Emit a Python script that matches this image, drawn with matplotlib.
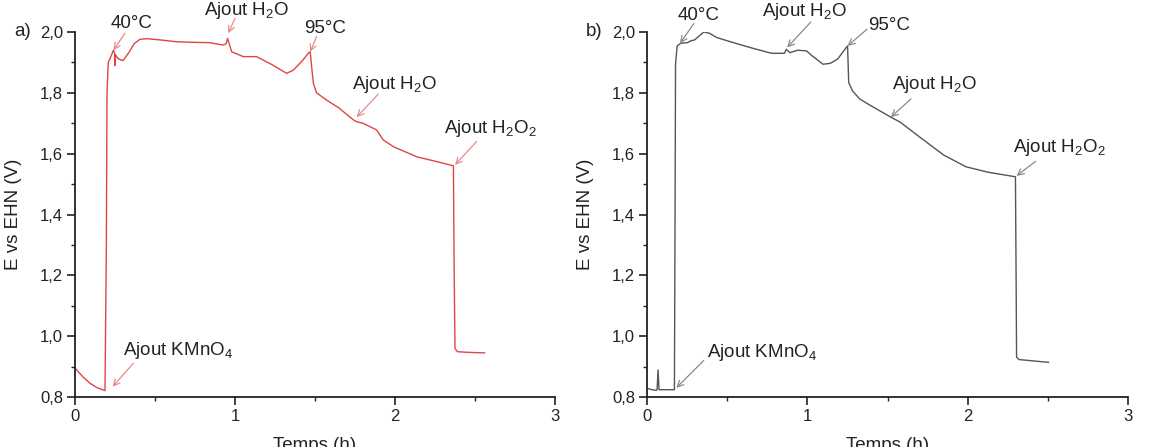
import matplotlib
matplotlib.use("Agg")
import matplotlib.pyplot as plt
from matplotlib.ticker import MultipleLocator, FuncFormatter

plt.rcParams['font.family'] = ['Liberation Sans', 'DejaVu Sans']
plt.rcParams['mathtext.fontset'] = 'custom'
plt.rcParams['mathtext.rm'] = 'Liberation Sans'
plt.rcParams['mathtext.default'] = 'regular'

# ---- Data: panel a (red) ----
t_a = [0.0, 0.05, 0.094, 0.14, 0.1875, 0.196, 0.20, 0.208, 0.225, 0.24, 0.248, 0.25, 0.252,
       0.27, 0.30, 0.34, 0.37, 0.406, 0.45, 0.53, 0.635, 0.74, 0.84, 0.927, 0.945, 0.954,
       0.962, 0.979, 1.052, 1.135, 1.23, 1.323, 1.365, 1.42, 1.458, 1.47, 1.48, 1.49, 1.51,
       1.573, 1.65, 1.74, 1.76, 1.80, 1.885, 1.927, 1.99, 2.135, 2.26, 2.365, 2.37, 2.375,
       2.39, 2.45, 2.56]
E_a = [0.895, 0.866, 0.845, 0.830, 0.821, 1.30, 1.80, 1.90, 1.92, 1.94, 1.93, 1.89, 1.925,
       1.912, 1.906, 1.935, 1.962, 1.976, 1.978, 1.974, 1.968, 1.966, 1.965, 1.957, 1.962, 1.979,
       1.965, 1.935, 1.919, 1.919, 1.893, 1.864, 1.875, 1.905, 1.930, 1.935, 1.88, 1.831, 1.80,
       1.776, 1.750, 1.711, 1.705, 1.700, 1.678, 1.645, 1.623, 1.590, 1.574, 1.560, 1.20, 0.96,
       0.949, 0.947, 0.945]

# ---- Data: panel b (grey) ----
t_b = [0.0, 0.03, 0.057, 0.063, 0.069, 0.075, 0.12, 0.171, 0.175, 0.178, 0.188, 0.21, 0.252,
       0.274, 0.297, 0.354, 0.389, 0.434, 0.526, 0.663, 0.777, 0.857, 0.869, 0.892, 0.938,
       0.995, 1.029, 1.098, 1.143, 1.189, 1.246, 1.251, 1.258, 1.281, 1.326, 1.395, 1.521,
       1.578, 1.715, 1.852, 1.989, 2.127, 2.298, 2.302, 2.305, 2.321, 2.504]
E_b = [0.829, 0.824, 0.822, 0.824, 0.889, 0.824, 0.824, 0.824, 1.40, 1.894, 1.954, 1.963,
       1.965, 1.971, 1.974, 2.000, 1.996, 1.982, 1.967, 1.946, 1.930, 1.930, 1.943, 1.932,
       1.940, 1.938, 1.922, 1.894, 1.897, 1.911, 1.951, 1.954, 1.834, 1.807, 1.780, 1.758,
       1.720, 1.704, 1.649, 1.595, 1.557, 1.539, 1.524, 1.20, 0.931, 0.923, 0.914]

# annotation texts
lab_40 = "40°C"
lab_h2o = "Ajout H$_2$O"
lab_95 = "95°C"
lab_h2o2 = "Ajout H$_2$O$_2$"
lab_kmno4 = "Ajout KMnO$_4$"

x_ticks = [0, 1, 2, 3]
y_ticks = [0.8, 1.0, 1.2, 1.4, 1.6, 1.8, 2.0]

fig = plt.figure(figsize=(11.52, 4.47), dpi=100)
ax_a = fig.add_axes([75/1152, 1-397/447, 480/1152, 365/447])
ax_b = fig.add_axes([647/1152, 1-397/447, 481/1152, 365/447])

comma = FuncFormatter(lambda v, p: f"{v:.1f}".replace('.', ','))

def style(ax):
    ax.set_xlim(0, 3)
    ax.set_ylim(0.8, 2.0)
    ax.set_xticks(x_ticks)
    ax.set_yticks(y_ticks)
    ax.xaxis.set_minor_locator(MultipleLocator(0.5))
    ax.yaxis.set_minor_locator(MultipleLocator(0.1))
    ax.yaxis.set_major_formatter(comma)
    ax.xaxis.set_major_formatter(FuncFormatter(lambda v, p: f"{int(v)}"))
    for s in ['top', 'right']:
        ax.spines[s].set_visible(False)
    for s in ['left', 'bottom']:
        ax.spines[s].set_linewidth(1.3)
        ax.spines[s].set_color('#222222')
    ax.tick_params(which='major', direction='out', length=5.5, width=1.2,
                   labelsize=12, pad=3, colors='#222222')
    ax.tick_params(which='minor', direction='out', length=3, width=1.0, colors='#222222')
    ax.set_xlabel("Temps (h)", fontsize=13.5, color='#222222')
    ax.set_ylabel("E vs EHN (V)", fontsize=13.5, color='#222222')
    ax.xaxis.set_label_coords(0.5, -0.11)
    ax.yaxis.set_label_coords(-0.11, 0.5)

style(ax_a)
style(ax_b)

ax_a.plot(t_a, E_a, color='#e04545', lw=1.0)
ax_b.plot(t_b, E_b, color='#555555', lw=1.0)

ann_a = [
    (lab_40, (0.354, 2.029), (0.3125, 1.996), (0.24, 1.94)),
    (lab_h2o, (1.073, 2.072), (1.0, 2.045), (0.958, 1.996)),
    (lab_95, (1.5625, 2.012), (1.51, 1.985), (1.47, 1.935)),
    (lab_h2o, (2.0, 1.826), (1.896, 1.796), (1.76, 1.72)),
    (lab_h2o2, (2.594, 1.683), (2.51, 1.64), (2.375, 1.563)),
    (lab_kmno4, (0.646, 0.9545), (0.365, 0.911), (0.235, 0.834)),
]
ann_b = [
    (lab_40, (0.32, 2.054), (0.293, 2.028), (0.206, 1.963)),
    (lab_h2o, (0.983, 2.069), (1.022, 2.033), (0.874, 1.949)),
    (lab_95, (1.509, 2.02), (1.372, 2.009), (1.251, 1.954)),
    (lab_h2o, (1.795, 1.829), (1.646, 1.78), (1.521, 1.72)),
    (lab_h2o2, (2.573, 1.619), (2.424, 1.575), (2.305, 1.527)),
    (lab_kmno4, (0.72, 0.947), (0.354, 0.920), (0.183, 0.83)),
]

def annotate(ax, anns, acol):
    for txt, tpos, tail, tip in anns:
        ax.text(tpos[0], tpos[1], txt, ha='center', va='center', fontsize=13.5,
                color='#222222', clip_on=False)
        ax.annotate('', xy=tip, xytext=tail, annotation_clip=False,
                    arrowprops=dict(arrowstyle='->', color=acol, lw=0.9,
                                    shrinkA=0, shrinkB=0, mutation_scale=11))

annotate(ax_a, ann_a, '#e88a8a')
annotate(ax_b, ann_b, '#8a8a8a')

fig.text(23/1152, 1-31/447, "a)", ha='center', va='center', fontsize=13.5, color='#222222')
fig.text(594/1152, 1-32/447, "b)", ha='center', va='center', fontsize=13.5, color='#222222')

fig.savefig("out.png", dpi=100)
